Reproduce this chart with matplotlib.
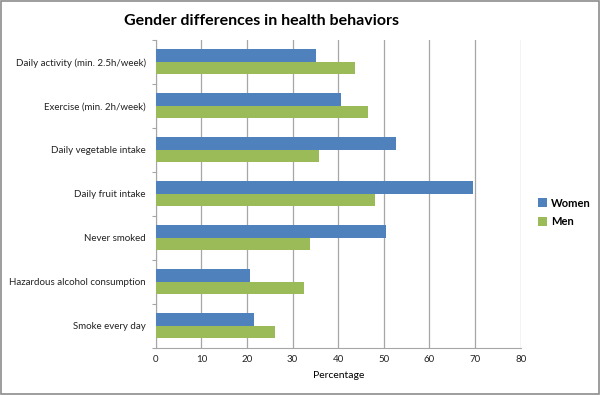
import matplotlib.pyplot as plt
import numpy as np
from matplotlib.patches import Rectangle

categories = ["Daily activity (min. 2.5h/week)", "Exercise (min. 2h/week)",
              "Daily vegetable intake", "Daily fruit intake", "Never smoked",
              "Hazardous alcohol consumption", "Smoke every day"]
women = [35.1, 40.6, 52.6, 69.6, 50.4, 20.7, 21.5]
men = [43.7, 46.6, 35.9, 48.0, 33.8, 32.4, 26.1]
xticks = [0, 10, 20, 30, 40, 50, 60, 70, 80]

plt.rcParams['font.family'] = ['Lato', 'DejaVu Sans']

fig = plt.figure(figsize=(6, 3.95), dpi=100)
ax = fig.add_axes([0.2595, 0.119, 0.6083, 0.780])

n = len(categories)
y = np.arange(n)[::-1].astype(float)
h = 0.284
ax.barh(y + h / 2, women, height=h, color='#4F81BD', label='Women', zorder=3)
ax.barh(y - h / 2, men, height=h, color='#9BBB59', label='Men', zorder=3)

ax.set_xlim(0, 80)
ax.set_ylim(-0.5, n - 0.5)
ax.set_xticks(xticks)
ax.set_xticklabels([str(t) for t in xticks], fontsize=7)
ax.tick_params(axis='x', length=0, pad=5, colors='#222222')
ax.xaxis.grid(True, color='#A6A6A6', linewidth=0.9, zorder=0)

ax.set_yticks(y)
ax.set_yticklabels(categories, fontsize=7)
ax.tick_params(axis='y', length=0, pad=7, colors='#222222')
# boundary tick marks like Excel
ax.set_yticks(np.arange(n + 1) - 0.5, minor=True)
ax.tick_params(axis='y', which='minor', length=3, color='#A6A6A6', width=0.8)

for s in ['top', 'right']:
    ax.spines[s].set_visible(False)
ax.spines['left'].set_color('#A6A6A6')
ax.spines['bottom'].set_color('#A6A6A6')

ax.set_xlabel('Percentage', fontsize=7.5, labelpad=5)

fig.text(0.435, 0.948, 'Gender differences in health behaviors', ha='center',
         va='center', fontsize=11.5, fontweight='bold')

ax.legend(loc='center left', bbox_to_anchor=(1.02, 0.44), frameon=False,
          handlelength=0.8, handleheight=0.8, handletextpad=0.4,
          labelspacing=0.7, prop={'weight': 'bold', 'size': 8})

fig.patches.append(Rectangle((0.002, 0.003), 0.996, 0.994, transform=fig.transFigure,
                             fill=False, edgecolor='#8C8C8C', linewidth=1.2))

fig.savefig('out.png', dpi=100)
